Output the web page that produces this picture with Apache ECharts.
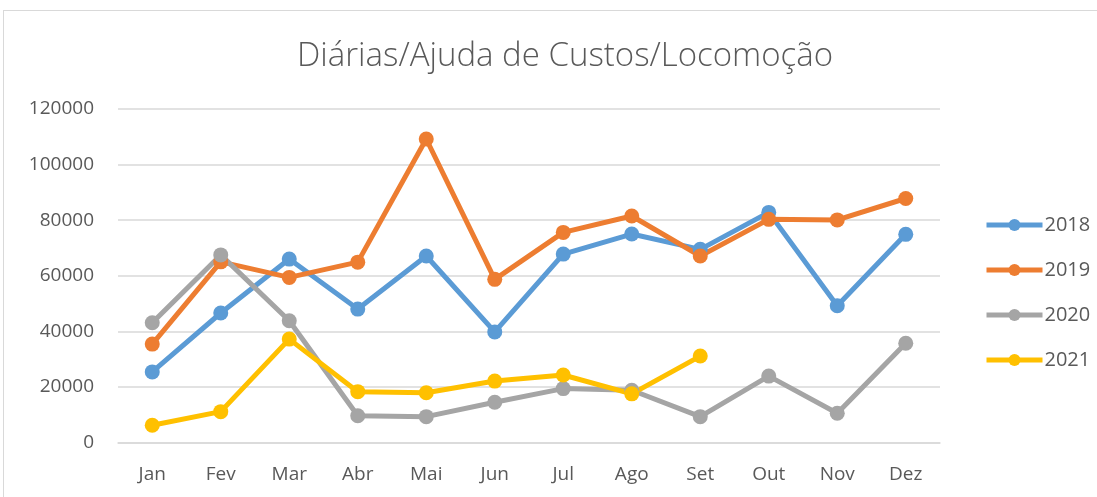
<!DOCTYPE html>
<html>
<head>
<meta charset="utf-8">
<script src="https://cdn.jsdelivr.net/npm/echarts@6/dist/echarts.min.js"></script>
<style>
  html, body { margin: 0; padding: 0; background: #fff; }
  #frame { position: absolute; left: 3px; top: 10px; width: 1200px; height: 600px; border: 1px solid #d9d9d9; }
  #chart { position: absolute; left: 0; top: 0; width: 1097px; height: 497px; }
</style>
</head>
<body>
<div id="frame"></div>
<div id="chart"></div>
<script>
// meses
var months = ['Jan', 'Fev', 'Mar', 'Abr', 'Mai', 'Jun', 'Jul', 'Ago', 'Set', 'Out', 'Nov', 'Dez'];
var years = ['2018', '2019', '2020', '2021'];

var v2018 = [25400, 46600, 66000, 48000, 67100, 39800, 67800, 75000, 69500, 82800, 49200, 74900];
var v2019 = [35400, 65000, 59400, 64900, 109200, 58700, 75600, 81500, 67100, 80300, 80100, 87800];
var v2020 = [43100, 67500, 43800, 9600, 9300, 14500, 19400, 18800, 9300, 23900, 10500, 35700];
var v2021 = [6200, 11100, 37200, 18300, 17900, 22100, 24300, 17500, 31100];

var yTicks = [0, 20000, 40000, 60000, 80000, 100000, 120000];

var colors = ['#5B9BD5', '#ED7D31', '#A5A5A5', '#FFC000'];
var allData = [v2018, v2019, v2020, v2021];

var myChart = echarts.init(document.getElementById('chart'));

var series = years.map(function (y, i) {
    return {
        name: y,
        type: 'line',
        data: allData[i],
        symbol: 'circle',
        symbolSize: 15,
        lineStyle: { width: 5, color: colors[i] },
        itemStyle: { color: colors[i] },
        emphasis: { disabled: true }
    };
});

myChart.setOption({
    animation: false,
    title: {
        text: 'Diárias/Ajuda de Custos/Locomoção',
        left: 292,
        top: 35,
        textStyle: {
            fontFamily: 'Open Sans',
            fontWeight: 300,
            fontSize: 33,
            color: '#595959'
        }
    },
    legend: {
        orient: 'vertical',
        left: 979,
        top: 210,
        itemGap: 25,
        itemWidth: 56,
        itemHeight: 15,
        data: years,
        lineStyle: { width: 5 },
        textStyle: { fontFamily: 'Open Sans', fontSize: 20, color: '#595959', padding: [0, 0, 0, -3] }
    },
    grid: {
        left: 118,
        right: 157,
        top: 109,
        bottom: 54.5
    },
    xAxis: {
        type: 'category',
        data: months,
        boundaryGap: true,
        axisLine: { lineStyle: { color: '#d9d9d9', width: 1.5 } },
        axisTick: { show: false },
        axisLabel: { fontFamily: 'Open Sans', fontSize: 19, color: '#595959', margin: 23 }
    },
    yAxis: {
        type: 'value',
        min: yTicks[0],
        max: yTicks[yTicks.length - 1],
        interval: 20000,
        axisLine: { show: false },
        axisTick: { show: false },
        splitLine: { lineStyle: { color: '#d9d9d9', width: 1.5 } },
        axisLabel: {
            fontFamily: 'Open Sans', fontSize: 19, color: '#595959', margin: 24,
            formatter: function (v) { return String(v); }
        }
    },
    series: series
});
</script>
</body>
</html>
